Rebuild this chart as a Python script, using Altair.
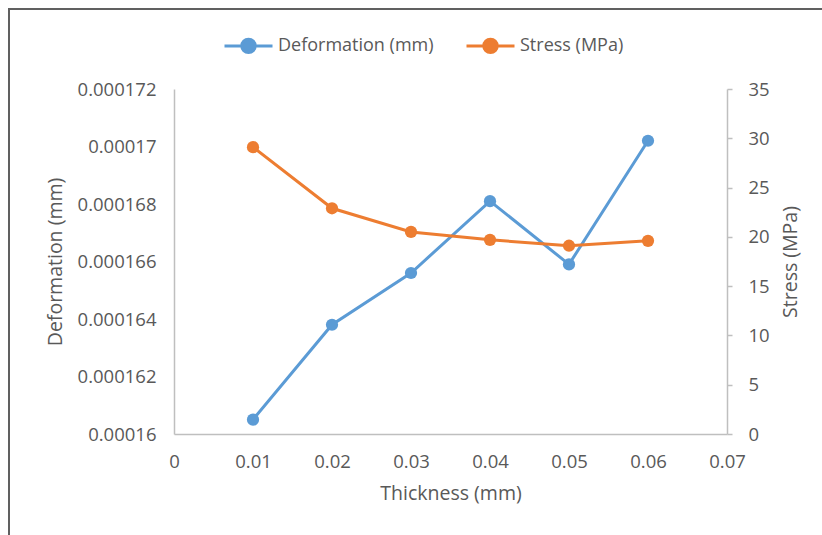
import altair as alt
import pandas as pd

thickness = [0.01, 0.02, 0.03, 0.04, 0.05, 0.06]
deformation = [0.0001605, 0.0001638, 0.0001656, 0.0001681, 0.0001659, 0.0001702]
stress = [29.1, 22.9, 20.5, 19.7, 19.1, 19.6]
series_names = ["Deformation (mm)", "Stress (MPa)"]
colors = ["#5B9BD5", "#ED7D31"]
x_ticks = [0, 0.01, 0.02, 0.03, 0.04, 0.05, 0.06, 0.07]
left_ticks = [0.00016, 0.000162, 0.000164, 0.000166, 0.000168, 0.00017, 0.000172]
right_ticks = [0, 5, 10, 15, 20, 25, 30, 35]

FONT = "Open Sans"
TXT = "#595959"
AX = "#BFBFBF"

df1 = pd.DataFrame({"thickness": thickness, "value": deformation, "series": series_names[0]})
df2 = pd.DataFrame({"thickness": thickness, "value": stress, "series": series_names[1]})

legend_path = "M-1,0 L-0.28,0 M0.28,0 L1,0 M0.28,0 A0.28,0.28 0 1,1 -0.28,0 A0.28,0.28 0 1,1 0.28,0 Z"

color = alt.Color(
    "series:N",
    scale=alt.Scale(domain=series_names, range=colors),
    legend=alt.Legend(
        title=None,
        orient="none",
        direction="horizontal",
        legendX=49,
        legendY=-69,
        symbolType=legend_path,
        symbolSize=2304,
        symbolStrokeWidth=3,
        labelFont=FONT,
        labelFontSize=18,
        labelColor=TXT,
        labelOffset=4,
        columnPadding=26,
        padding=0,
    ),
)

xenc = alt.X(
    "thickness:Q",
    title="Thickness (mm)",
    scale=alt.Scale(domain=[0, 0.07], nice=False),
    axis=alt.Axis(
        values=x_ticks, format=".2~f", grid=False, ticks=False, labelFlush=False,
        domainColor=AX, domainWidth=1.5, labelPadding=18,
        titlePadding=14,
    ),
)

line1 = alt.Chart(df1).mark_line(
    strokeWidth=3, point=alt.OverlayMarkDef(size=150, filled=True, opacity=1)
).encode(
    x=xenc,
    y=alt.Y(
        "value:Q",
        title="Deformation (mm)",
        scale=alt.Scale(domain=[0.00016, 0.000172], nice=False, zero=False),
        axis=alt.Axis(
            values=left_ticks, format=".6~f", grid=False, ticks=False, labelFlush=False,
            domainColor=AX, domainWidth=1.5, labelPadding=18, titlePadding=12,
        ),
    ),
    color=color,
)

line2 = alt.Chart(df2).mark_line(
    strokeWidth=3, point=alt.OverlayMarkDef(size=150, filled=True, opacity=1)
).encode(
    x=xenc,
    y=alt.Y(
        "value:Q",
        title="Stress (MPa)",
        scale=alt.Scale(domain=[0, 35], nice=False),
        axis=alt.Axis(
            orient="right", values=right_ticks, grid=False, ticks=True, labelFlush=False,
            tickSize=5, tickColor=AX, tickWidth=1.5,
            titleAngle=270, titleBaseline="top",
            domainColor=AX, domainWidth=1.5, labelPadding=16, titlePadding=12,
        ),
    ),
    color=color,
)

frame = alt.Chart(alt.Data(values=[{}])).mark_rect(
    fill=None, stroke="#606060", strokeWidth=2
).encode(
    x=alt.value(-165), x2=alt.value(700), y=alt.value(-80), y2=alt.value(500)
)

chart = alt.layer(line1, line2, frame).resolve_scale(y="independent").properties(
    width=553,
    height=345,
    background="white",
    autosize=alt.AutoSizeParams(type="none"),
    padding={"left": 174, "top": 89, "right": 95, "bottom": 101},
).configure_view(stroke=None).configure_axis(
    labelFont=FONT, labelFontSize=18.5, labelColor=TXT,
    titleFont=FONT, titleFontSize=19.5, titleColor=TXT, titleFontWeight="normal",
)

chart.save("out.html", embed_options={"renderer": "svg", "actions": False})
